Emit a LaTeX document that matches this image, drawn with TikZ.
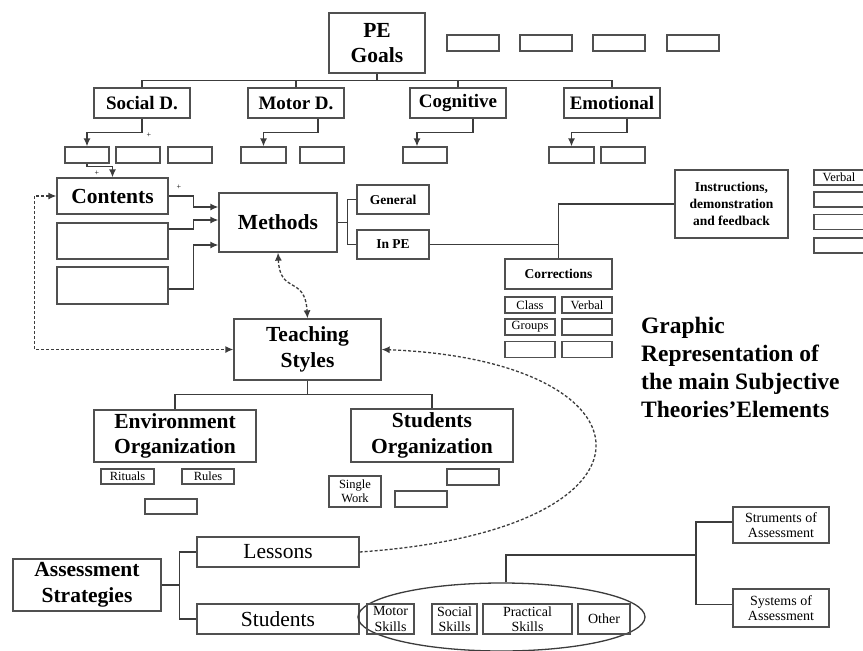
\documentclass[tikz,border=0pt]{standalone}
\usepackage{fontspec}
\setmainfont{Liberation Serif}
\usetikzlibrary{arrows.meta,shapes.geometric}
\definecolor{boxc}{RGB}{80,80,80}
\definecolor{linec}{RGB}{60,60,60}
\begin{document}
\begin{tikzpicture}[x=1pt,y=-1pt,
  box/.style 2 args={draw=boxc, line width=1.3pt, minimum width=#1, minimum height=#2, inner sep=0pt, align=center},
  link/.style={draw=linec, line width=1.3pt},
  tip/.tip={Latex[length=8pt,width=7pt]},
  arr/.style={link, -tip},
  dlink/.style={link, dash pattern=on 3pt off 2pt},
  ftitle/.style={font=\fontsize{23.5}{28}\selectfont\bfseries},
  fbig/.style={font=\fontsize{21.5}{25.5}\selectfont\bfseries},
  fmid/.style={font=\fontsize{19}{23}\selectfont\bfseries},
  fsmallb/.style={font=\fontsize{13.5}{17}\selectfont\bfseries},
  fsmall/.style={font=\fontsize{12.5}{14.5}\selectfont},
  fskill/.style={font=\fontsize{14}{15.5}\selectfont},
  fplain/.style={font=\fontsize{21.5}{25}\selectfont},
  plus/.style={font=\fontsize{8}{8}\selectfont, inner sep=0pt}]
\fill[white] (0,0) rectangle (863,651);
\useasboundingbox (0,0) rectangle (863,651);

% ---- goals ----
\node[box={96}{60}, fbig] (pe) at (377,43) {PE\\Goals};
\node[box={52}{16}] (g1) at (473,43) {};
\node[box={52}{16}] (g2) at (546,43) {};
\node[box={52}{16}] (g3) at (619,43) {};
\node[box={52}{16}] (g4) at (693,43) {};

\node[box={96}{30}, fmid] (soc) at (142,103) {Social D.};
\node[box={96}{30}, fmid] (mot) at (296,103) {Motor D.};
\node[box={96}{30}, fmid] (cog) at (458,103) {Cognitive};
\node[box={96}{30}, fmid] (emo) at (612,103) {Emotional};

\draw[link] (pe.south) -- ++(0,7) coordinate (pej);
\draw[link] (soc.north) |- (pej) -| (emo.north);
\draw[link] (mot.north) |- (pej);
\draw[link] (cog.north) |- (pej);

\node[box={44}{16}] (s1) at (87,155) {};
\node[box={44}{16}] (s2) at (138,155) {};
\node[box={44}{16}] (s3) at (190,155) {};
\node[box={45}{16}] (m1) at (263.5,155) {};
\node[box={44}{16}] (m2) at (322,155) {};
\node[box={44}{16}] (c1) at (425,155) {};
\node[box={45}{16}] (e1) at (571.5,155) {};
\node[box={44}{16}] (e2) at (623,155) {};

\draw[arr] (soc.south) -- ++(0,14) -| (s1.north);
\draw[arr] ([xshift=22pt]mot.south) -- ++(0,14) -| (m1.north);
\draw[arr] ([xshift=15pt]cog.south) -- ++(0,14) -| ([xshift=-8pt]c1.north);
\draw[arr] ([xshift=15pt]emo.south) -- ++(0,14) -| (e1.north);
\node[plus] (p1) at (149,135) {+};

% ---- contents and methods ----
\node[box={111}{36}, fbig] (cont) at (112.5,196) {Contents};
\node[box={111}{36}] (ct2) at (112.5,241) {};
\node[box={111}{37}] (ct3) at (112.5,285.5) {};
\draw[arr] (s1.south) -- ++(0,3) -| (cont.north);
\node[plus] (p2) at (97,173) {+};
\node[plus] (p3) at (179,187) {+};

\node[box={118}{59}, fbig] (meth) at (278,222.5) {Methods};
\draw[arr] (cont.east) -- ++(25,0) |- ([yshift=15.5pt]meth.west);
\draw[arr] ([yshift=12pt]ct2.east) -- ++(25,0) |- ([yshift=2.5pt]meth.west);
\draw[arr] ([yshift=-3.5pt]ct3.east) -- ++(25,0) |- ([yshift=-22.5pt]meth.west);

\node[box={72}{29}, fsmallb] (gen) at (393,199.5) {General};
\node[box={72}{29}, fsmallb] (inpe) at (393,244.5) {In PE};
\draw[link] (meth.east) -- ++(10,0) coordinate (mj);
\draw[link] (gen.west) -| (mj) |- (inpe.west);

\node[box={113}{68}, fsmallb] (instr) at (731.5,204) {Instructions,\\demonstration\\and feedback};
\node[box={50}{15}, fsmall] (v1) at (839,177.5) {Verbal};
\node[box={50}{15}] (v2) at (839,199.5) {};
\node[box={50}{15}] (v3) at (839,222) {};
\node[box={50}{15}] (v4) at (839,245.5) {};

\node[box={107}{30}, fsmallb] (corr) at (558.5,274) {Corrections};
\draw[link] (inpe.east) -- (corr.north |- inpe.east);
\draw[link] (corr.north) |- (instr.west);

\node[box={50}{16}, fsmall] (k1) at (530,305) {Class};
\node[box={50}{16}, fsmall] (k2) at (587,305) {Verbal};
\node[box={50}{16}, fsmall] (k3) at (530,327) {Groups};
\node[box={50}{16}] (k4) at (587,327) {};
\node[box={50}{16}] (k5) at (530,349.5) {};
\node[box={50}{16}] (k6) at (587,349.5) {};

% ---- title ----
\node[ftitle, anchor=north west, align=left, inner sep=0pt] (title) at (641,317)
  {Graphic\\Representation of\\the main Subjective\\Theories'Elements};

% ---- teaching styles ----
\node[box={147}{61}, fbig] (ts) at (307.5,349.5) {Teaching\\Styles};
\draw[dlink, tip-tip]
  (meth.south) .. controls (280,295) and (305,275) .. (ts.north);
\draw[dlink, tip-tip]
  (cont.west) -- ++(-22,0) |- (ts.west);

\node[box={162}{52}, fbig] (env) at (175,436) {Environment\\Organization};
\node[box={162}{53}, fbig] (sorg) at (432,435.5) {Students\\Organization};
\draw[link] (ts.south) -- ++(0,14) coordinate (tsj);
\draw[link] (env.north) |- (tsj) -| (sorg.north);

\node[box={53}{15}, fsmall] (rit) at (127.5,476.5) {Rituals};
\node[box={52}{15}, fsmall] (rul) at (208,476.5) {Rules};
\node[box={52}{15}] (eo3) at (171,506.5) {};
\node[box={52}{31}, fsmall] (sw) at (355,491.5) {Single\\Work};
\node[box={52}{16}] (so2) at (421,499) {};
\node[box={52}{16}] (so3) at (473,477) {};

% ---- assessment ----
\node[box={148}{52}, fbig] (as) at (87,585) {Assessment\\Strategies};
\node[box={162}{30}, fplain] (les) at (278,552) {Lessons};
\node[box={162}{30}, fplain] (stu) at (278,619) {Students};
\draw[link] (as.east) -- ++(18,0) coordinate (aj);
\draw[link] (les.west) -| (aj) |- (stu.west);

\draw[dlink, -tip]
  (les.east) .. controls (680,530) and (660,360) .. (ts.east);

\node[draw=linec, line width=1.3pt, ellipse, minimum width=287, minimum height=68, inner sep=0pt] (ell) at (501.5,617) {};
\node[box={47}{30}, fskill] (sk1) at (390.5,619) {Motor\\Skills};
\node[box={45}{30}, fskill] (sk2) at (454.5,619) {Social\\Skills};
\node[box={89}{30}, fskill] (sk3) at (527.5,619) {Practical\\Skills};
\node[box={52}{30}, fskill] (sk4) at (604,619) {Other};

\node[box={96}{36}, fskill] (strum) at (781,525) {Struments of\\Assessment};
\node[box={96}{38}, fskill] (sys) at (781,608) {Systems of\\Assessment};
\coordinate (ej) at (696,555);
\draw[link] ([xshift=4.5pt]ell.north) |- (ej);
\draw[link] ([yshift=3pt]strum.west) -| (ej) |- ([yshift=3.7pt]sys.west);
\end{tikzpicture}
\end{document}
